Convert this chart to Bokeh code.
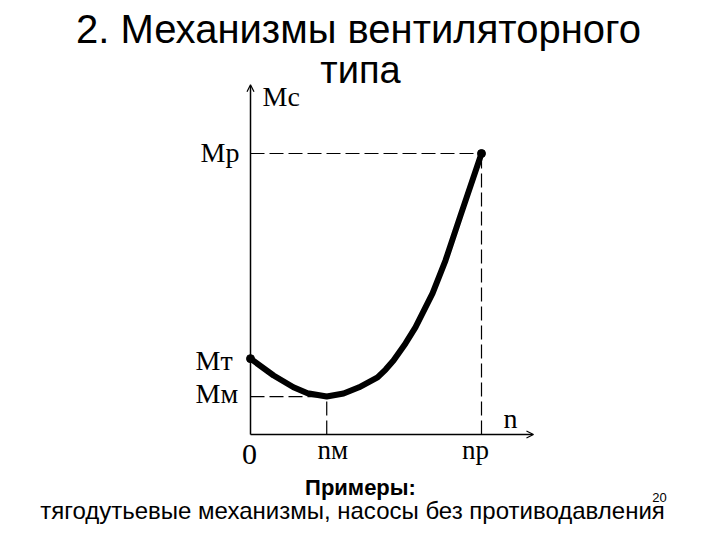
from bokeh.plotting import figure
from bokeh.models import Range1d, Label, Arrow, OpenHead
from bokeh.embed import file_html
from bokeh.resources import INLINE

# ---- data (n in units of n_p, M in units of M_p) ----
n_curve = [0.0, 0.10, 0.186, 0.247, 0.33, 0.403, 0.47, 0.55, 0.585, 0.619, 0.671, 0.714, 0.788, 0.844, 0.909, 1.0]
m_curve = [0.270, 0.210, 0.168, 0.147, 0.135, 0.146, 0.168, 0.203, 0.231, 0.263, 0.324, 0.381, 0.502, 0.619, 0.779, 1.0]
n_min = 0.33      # nм
n_rated = 1.0     # nр
m_rated = 1.0     # Mр
m_start = 0.270   # Mт
m_min = 0.135     # Mм
n_axis_end = 1.225
m_axis_end = 1.245

title1 = "2. Механизмы вентиляторного"
title2 = "типа"
footer_head = "Примеры:"
footer_text = "тягодутьевые механизмы, насосы без противодавления"
page_no = "20"

W, H = 704, 524
p = figure(width=W, height=H, x_range=Range1d(-1.0823, 1.9654), y_range=Range1d(-0.3203, 1.5445),
           toolbar_location=None, output_backend="svg", x_axis_type=None, y_axis_type=None,
           min_border=0, outline_line_color=None, background_fill_color="white")

# axes with arrows
p.add_layout(Arrow(end=OpenHead(size=7, line_width=1.2, line_color="black"),
                   x_start=0, y_start=0, x_end=0, y_end=m_axis_end, line_width=1.5, line_color="black"))
p.add_layout(Arrow(end=OpenHead(size=7, line_width=1.2, line_color="black"),
                   x_start=0, y_start=0, x_end=n_axis_end, y_end=0, line_width=1.5, line_color="black"))

# dashed guide lines
dash = "14 5"
p.line([0, n_rated], [m_rated, m_rated], line_dash=dash, line_color="black", line_width=1.2)
p.line([n_rated, n_rated], [0, m_rated], line_dash=dash, line_color="black", line_width=1.2)
p.line([0, n_min], [m_min, m_min], line_dash=dash, line_color="black", line_width=1.2)
p.line([n_min, n_min], [0, m_min], line_dash=dash, line_color="black", line_width=1.2)

# curve
p.line(n_curve, m_curve, line_width=6, line_color="black", line_cap="round", line_join="round")
p.scatter([n_curve[0], n_curve[-1]], [m_curve[0], m_curve[-1]], size=8, color="black")

serif = "Liberation Serif"
sans = "Liberation Sans"

def lab(**kw):
    d = dict(text_color="black", text_baseline="alphabetic")
    d.update(kw)
    p.add_layout(Label(**d))

# axis labels
lab(x=0, y=m_axis_end, text="Мс", x_offset=12, y_offset=-12, text_font=serif, text_font_size="28px")
lab(x=0, y=m_rated, text="Мр", x_offset=-11, y_offset=1.5, text_align="right", text_font=serif, text_font_size="28px")
lab(x=0, y=m_start, text="Мт", x_offset=-55, y_offset=-1.5, text_font=serif, text_font_size="28px")
lab(x=0, y=m_min, text="Мм", x_offset=-55, y_offset=3.5, text_font=serif, text_font_size="28px")
lab(x=0, y=0, text="0", x_offset=-1, y_offset=-20.5, text_align="center", text_font=serif, text_font_size="30px")
lab(x=n_min, y=0, text="nм", x_offset=6, y_offset=-15.5, text_align="center", text_font=serif, text_font_size="27px")
lab(x=n_rated, y=0, text="nр", x_offset=-6, y_offset=-15.5, text_align="center", text_font=serif, text_font_size="27px")
lab(x=n_rated, y=0, text="n", x_offset=22, y_offset=16, text_font=serif, text_font_size="28px")

# title and footer (screen units: x from left, y from bottom of canvas)
lab(x=358, y=496, x_units="screen", y_units="screen", text=title1, text_align="center",
    text_font=sans, text_font_size="40px")
lab(x=360, y=455, x_units="screen", y_units="screen", text=title2, text_align="center",
    text_font=sans, text_font_size="38px")
lab(x=360, y=37, x_units="screen", y_units="screen", text=footer_head, text_align="center",
    text_font=sans, text_font_size="22px", text_font_style="bold")
lab(x=352, y=14.5, x_units="screen", y_units="screen", text=footer_text, text_align="center",
    text_font=sans, text_font_size="24px")
lab(x=659, y=27, x_units="screen", y_units="screen", text=page_no, text_align="center",
    text_font=sans, text_font_size="13px")

open("out.html", "w").write(file_html(p, INLINE))
